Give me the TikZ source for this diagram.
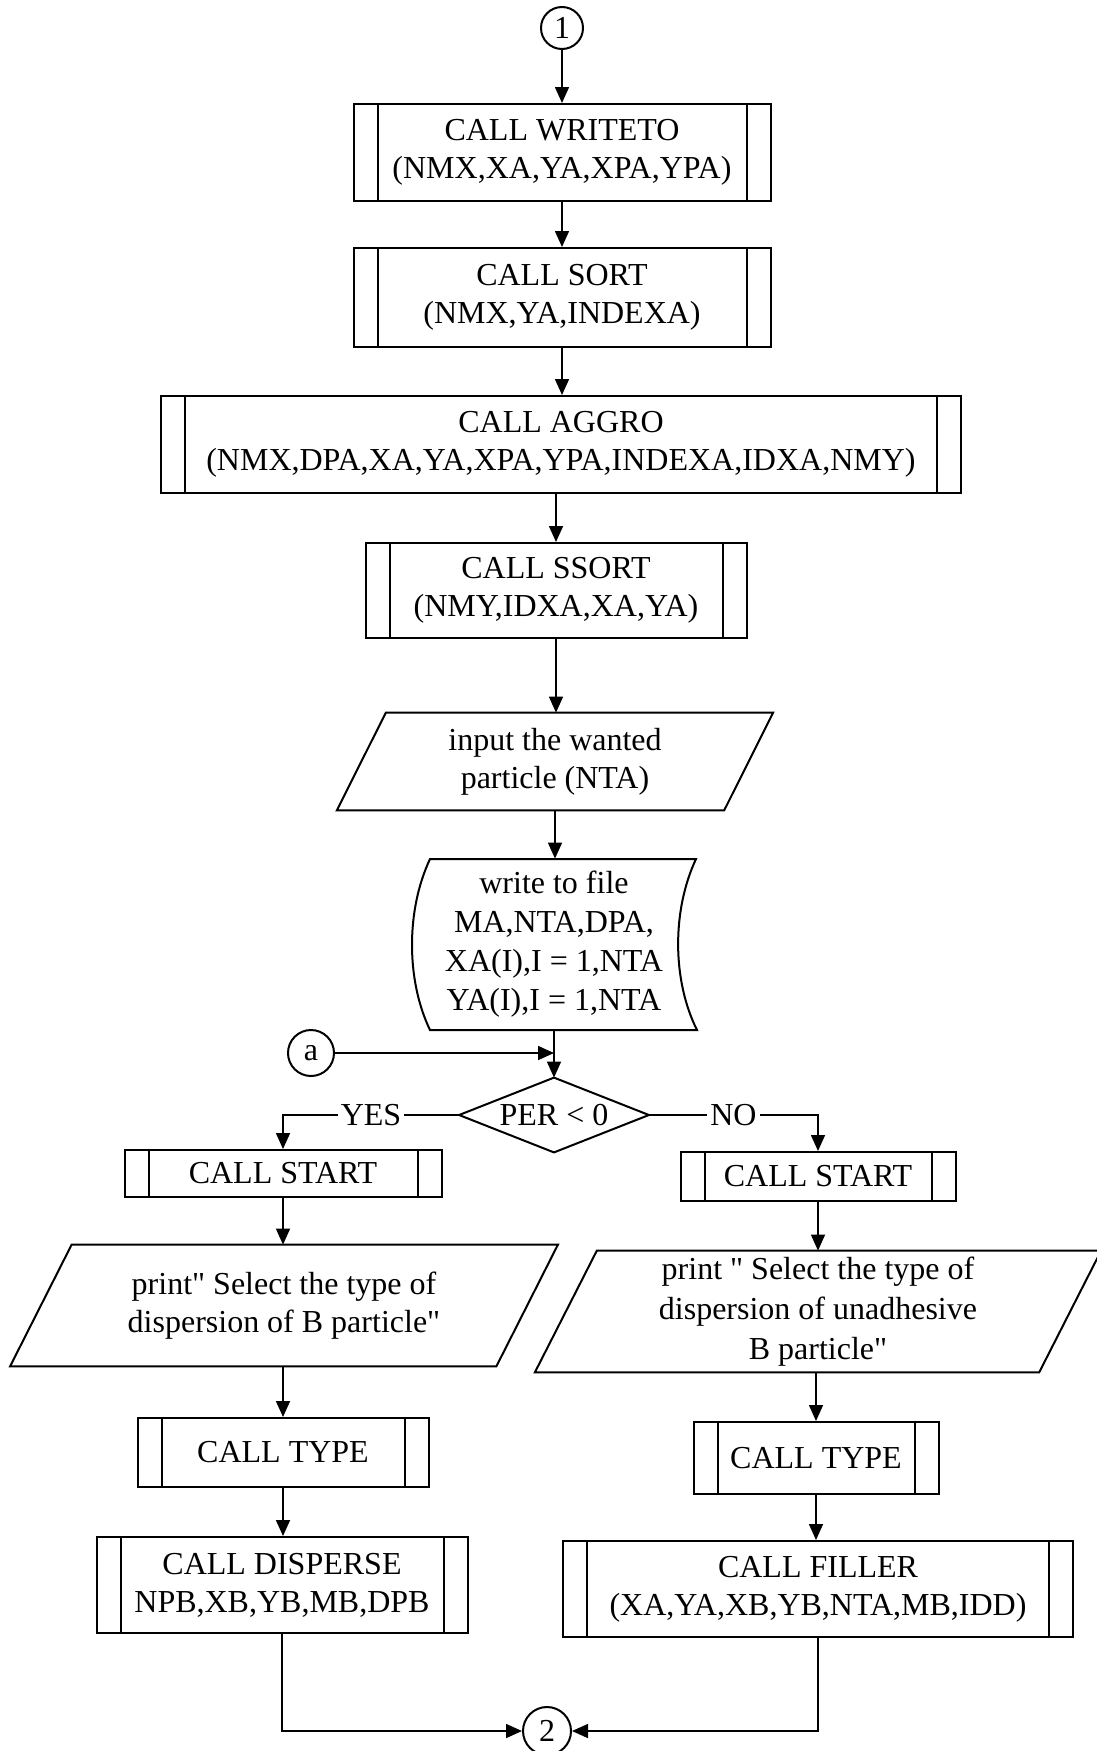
\documentclass[tikz,border=0pt]{standalone}
\usepackage{fontspec}
\setmainfont{Liberation Serif}[Ligatures=TeXOff]
\usetikzlibrary{arrows.meta}
\tikzset{
  base/.style={font=\fontsize{16}{19}\selectfont, align=center, inner sep=0pt},
  sub/.style={base, draw, line width=1pt, rectangle,
    path picture={\draw[line width=1pt]
      ([xshift=12pt]path picture bounding box.north west) -- ([xshift=12pt]path picture bounding box.south west)
      ([xshift=-12pt]path picture bounding box.north east) -- ([xshift=-12pt]path picture bounding box.south east);}},
  plain/.style={base, rectangle},
  conn/.style={base, draw, circle, line width=1pt},
  outline/.style={line width=1pt},
  arr/.style={line width=0.8pt, -{Triangle[length=8pt,width=7pt]}},
  lbl/.style={base, fill=white, inner sep=1.5pt},
}
\newcommand\pgramoutline[2]{\draw[outline] ([xshift=#2]#1.north west) -- ([xshift=#2]#1.north east) -- ([xshift=-#2]#1.south east) -- ([xshift=-#2]#1.south west) -- cycle;}
\begin{document}
\begin{tikzpicture}[x=0.5pt,y=-0.5pt]
\useasboundingbox (0,0) rectangle (1097,1751);
% main column
\node[conn, minimum size=21pt] (c1) at (562,28) {1};
\node[sub, minimum width=208.5pt, minimum height=48.5pt] (wr) at (562,152.5) {CALL WRITETO\\(NMX,XA,YA,XPA,YPA)};
\node[sub, minimum width=208.5pt, minimum height=49.5pt] (srt) at (562,297.5) {CALL SORT\\(NMX,YA,INDEXA)};
\node[sub, minimum width=400pt, minimum height=48.5pt] (agg) at (561,444.5) {CALL AGGRO\\(NMX,DPA,XA,YA,XPA,YPA,INDEXA,IDXA,NMY)};
\node[sub, minimum width=190.5pt, minimum height=47.5pt] (ssrt) at (556,590.5) {CALL SSORT\\(NMY,IDXA,XA,YA)};
\node[plain, minimum width=193.25pt, minimum height=48.5pt] (inp) at (555,761.5) {input the wanted\\particle (NTA)};
\pgramoutline{inp}{12.25pt}
\node[plain, minimum height=85.5pt, font=\fontsize{16}{19.5}\selectfont] (wf) at (554,944.5) {write to file\\MA,NTA,DPA,\\XA(I),I = 1,NTA\\YA(I),I = 1,NTA};
\draw[outline] (430,859) -- (696,859) .. controls (672,910) and (672,980) .. (697,1030) -- (430,1030) .. controls (406,980) and (406,910) .. (430,859) -- cycle;
\node[plain, minimum width=94.5pt, minimum height=37pt] (dec) at (554,1115) {PER < 0};
\draw[outline] (dec.north) -- (dec.east) -- (dec.south) -- (dec.west) -- cycle;
\node[conn, minimum size=23pt] (ca) at (311,1053) {a};
% left branch
\node[sub, minimum width=158.5pt, minimum height=23.5pt] (lst) at (283,1173.5) {CALL START};
\node[plain, minimum width=242.75pt, minimum height=60.5pt] (lpr) at (284,1305.5) {print" Select the type of\\dispersion of B particle"};
\pgramoutline{lpr}{15.4pt}
\node[sub, minimum width=145.5pt, minimum height=34.5pt] (lty) at (283,1452.5) {CALL TYPE};
\node[sub, minimum width=185.5pt, minimum height=48pt] (ldp) at (282,1585) {CALL DISPERSE\\NPB,XB,YB,MB,DPB};
% right branch
\node[sub, minimum width=137.5pt, minimum height=24.5pt] (rst) at (818,1176.5) {CALL START};
\node[plain, minimum width=251.75pt, minimum height=60.5pt, font=\fontsize{16}{20}\selectfont] (rpr) at (818,1311.5) {print " Select the type of\\dispersion of unadhesive\\B particle"};
\pgramoutline{rpr}{15.5pt}
\node[sub, minimum width=122.5pt, minimum height=36pt] (rty) at (816,1458) {CALL TYPE};
\node[sub, minimum width=255pt, minimum height=48pt] (fil) at (818,1589) {CALL FILLER\\(XA,YA,XB,YB,NTA,MB,IDD)};
\node[conn, minimum size=24pt] (c2) at (547,1731) {2};
% connectors
\draw[arr] (c1) -- (wr);
\draw[arr] (wr) -- (srt);
\draw[arr] (srt.south) -- (srt.south |- agg.north);
\draw[arr] (agg.south -| ssrt.north) -- (ssrt.north);
\draw[arr] (ssrt.south) -- (ssrt.south |- inp.north);
\draw[arr] (inp.south) -- (inp.south |- wf.north);
\draw[arr] (wf.south) -- (dec.north);
\draw[arr] (ca) -- (ca -| dec.north);
\draw[arr] (dec.west) -- node[lbl]{YES} (dec.west -| lst.north) -- (lst.north);
\draw[arr] (dec.east) -- node[lbl]{NO} (dec.east -| rst.north) -- (rst.north);
\draw[arr] (lst.south) -- (lst.south |- lpr.north);
\draw[arr] (lpr.south -| lty.north) -- (lty.north);
\draw[arr] (lty.south) -- (lty.south |- ldp.north);
\draw[arr] (rst.south) -- (rst.south |- rpr.north);
\draw[arr] (rpr.south -| rty.north) -- (rty.north);
\draw[arr] (rty.south) -- (rty.south |- fil.north);
\draw[arr] (ldp.south) -- (ldp.south |- c2.west) -- (c2.west);
\draw[arr] (fil.south) -- (fil.south |- c2.east) -- (c2.east);
\end{tikzpicture}
\end{document}
